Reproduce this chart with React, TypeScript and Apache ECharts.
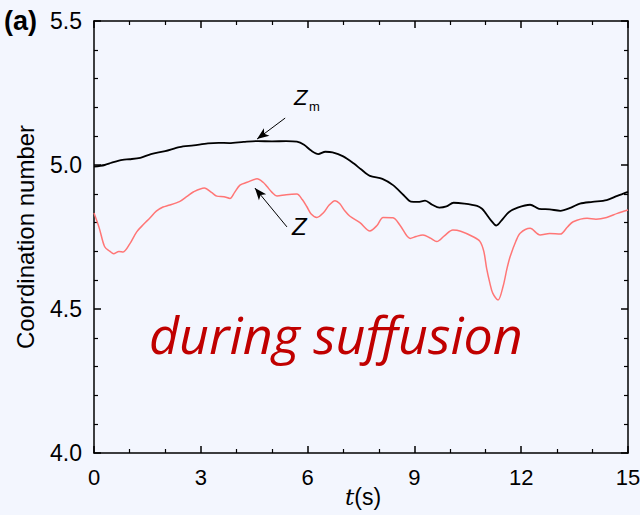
import React, { useEffect, useRef } from 'react';
import * as echarts from 'echarts';

// Z_m (black) — time (s) and coordination number
const zmT = [0, 0.3, 0.5, 0.8, 1.0, 1.3, 1.6, 2.0, 2.4, 2.8, 3.2, 3.5, 3.8, 4.2, 4.6, 5.0, 5.4, 5.7, 5.9, 6.1, 6.3, 6.5, 6.7, 7.0, 7.3, 7.5, 7.75, 8.1, 8.4, 8.7, 8.9, 9.1, 9.3, 9.5, 9.7, 9.9, 10.1, 10.4, 10.76, 10.9, 11.0, 11.15, 11.3, 11.45, 11.65, 11.9, 12.25, 12.5, 12.8, 13.1, 13.4, 13.65, 14.0, 14.4, 14.7, 15.0];
const zmV = [4.994, 5.0, 5.008, 5.018, 5.02, 5.025, 5.038, 5.048, 5.062, 5.068, 5.075, 5.077, 5.076, 5.08, 5.083, 5.082, 5.083, 5.081, 5.07, 5.05, 5.038, 5.046, 5.044, 5.03, 5.005, 4.985, 4.962, 4.952, 4.93, 4.895, 4.873, 4.872, 4.876, 4.862, 4.852, 4.856, 4.869, 4.866, 4.858, 4.848, 4.833, 4.808, 4.79, 4.808, 4.836, 4.852, 4.862, 4.848, 4.846, 4.841, 4.852, 4.866, 4.872, 4.878, 4.893, 4.907];

// Z (red)
const zT = [0, 0.15, 0.3, 0.45, 0.55, 0.7, 0.82, 1.0, 1.2, 1.4, 1.57, 1.75, 1.94, 2.1, 2.4, 2.6, 2.8, 3.1, 3.3, 3.45, 3.65, 3.82, 3.95, 4.1, 4.3, 4.58, 4.75, 4.86, 5.0, 5.14, 5.4, 5.7, 5.85, 5.98, 6.1, 6.26, 6.45, 6.6, 6.77, 6.9, 7.05, 7.19, 7.47, 7.75, 7.95, 8.12, 8.4, 8.6, 8.88, 9.05, 9.24, 9.45, 9.63, 9.85, 10.08, 10.3, 10.65, 10.84, 10.95, 11.03, 11.12, 11.2, 11.35, 11.49, 11.6, 11.69, 11.85, 11.97, 12.25, 12.53, 12.8, 13.1, 13.3, 13.46, 13.85, 14.1, 14.4, 14.7, 15.0];
const zV = [4.833, 4.78, 4.716, 4.7, 4.692, 4.7, 4.698, 4.725, 4.768, 4.795, 4.816, 4.84, 4.854, 4.86, 4.873, 4.89, 4.907, 4.92, 4.905, 4.892, 4.89, 4.884, 4.905, 4.93, 4.94, 4.952, 4.94, 4.925, 4.905, 4.892, 4.897, 4.899, 4.88, 4.855, 4.83, 4.818, 4.835, 4.86, 4.876, 4.866, 4.84, 4.822, 4.8, 4.771, 4.79, 4.818, 4.817, 4.79, 4.745, 4.752, 4.757, 4.746, 4.734, 4.755, 4.774, 4.77, 4.751, 4.735, 4.7, 4.64, 4.59, 4.555, 4.531, 4.578, 4.64, 4.682, 4.735, 4.763, 4.78, 4.757, 4.762, 4.76, 4.785, 4.803, 4.815, 4.812, 4.818, 4.832, 4.844];

const xTicks = { min: 0, max: 15, interval: 3 };
const yTicks = { min: 4.0, max: 5.5, interval: 0.5 };

// arrow annotations [tailT, tailV, tipT, tipV]
const arrowZm = [5.37, 5.163, 4.58, 5.09];
const arrowZ = [5.42, 4.785, 4.52, 4.92];

const SANS = '"Liberation Sans", Arial, sans-serif';

export default function App() {
  const ref = useRef<HTMLDivElement>(null);
  useEffect(() => {
    if (!ref.current) return;
    const chart = echarts.init(ref.current, undefined, { renderer: 'svg' });
    const axisLine = { show: true, onZero: false, lineStyle: { color: '#000', width: 1.5 } };
    const axisTick = { show: true, inside: true, length: 7, lineStyle: { color: '#000', width: 1.5 } };
    const minor = (n: number) => ({ show: true, splitNumber: n, length: 4, lineStyle: { color: '#000', width: 1.2 } });
    chart.setOption({
      animation: false,
      backgroundColor: '#f3f6fe',
      grid: { left: 94, right: 12, top: 21, bottom: 62, containLabel: false, outerBoundsMode: 'none' },
      xAxis: [
        {
          type: 'value', ...xTicks, position: 'bottom',
          axisLine, axisTick, minorTick: minor(3), splitLine: { show: false },
          axisLabel: { fontSize: 22, color: '#000', margin: 13, fontFamily: SANS },
        },
        {
          type: 'value', ...xTicks, position: 'top',
          axisLine, axisTick, minorTick: minor(3), splitLine: { show: false },
          axisLabel: { show: false },
        },
      ],
      yAxis: [
        {
          type: 'value', ...yTicks, position: 'left',
          axisLine, axisTick, minorTick: minor(5), splitLine: { show: false },
          axisLabel: { fontSize: 23, color: '#000', margin: 12, fontFamily: SANS, formatter: (v: number) => v.toFixed(1) },
          name: 'Coordination number', nameLocation: 'middle', nameGap: 57,
          nameTextStyle: { fontSize: 24, color: '#000', fontFamily: SANS },
        },
        {
          type: 'value', ...yTicks, position: 'right',
          axisLine, axisTick, minorTick: minor(5), splitLine: { show: false },
          axisLabel: { show: false },
        },
      ],
      series: [
        {
          type: 'line', name: 'Zm', showSymbol: false, smooth: 0.3,
          data: zmT.map((t, i) => [t, zmV[i]]),
          lineStyle: { color: '#000', width: 1.8 },
          z: 3,
          markLine: {
            silent: true, animation: false,
            symbol: ['none', 'arrow'], symbolSize: [7, 12],
            label: { show: false },
            lineStyle: { color: '#000', width: 1, type: 'solid' },
            data: [
              [{ coord: [arrowZm[0], arrowZm[1]] }, { coord: [arrowZm[2], arrowZm[3]] }],
              [{ coord: [arrowZ[0], arrowZ[1]] }, { coord: [arrowZ[2], arrowZ[3]] }],
            ],
          },
        },
        {
          type: 'line', name: 'Z', showSymbol: false, smooth: 0.3,
          data: zT.map((t, i) => [t, zV[i]]),
          lineStyle: { color: '#ff7676', width: 1.5 },
          z: 2,
        },
      ],
      graphic: [
        { type: 'text', left: 4, top: 7, style: { text: '(a)', font: `bold 27px ${SANS}`, fill: '#000' } },
        {
          type: 'text', x: 363, y: 485,
          style: {
            text: '{i|t}{n|(s)}', align: 'center', verticalAlign: 'top',
            rich: {
              i: { fontFamily: '"DejaVu Serif", serif', fontStyle: 'italic', fontSize: 23, fill: '#000' },
              n: { fontFamily: SANS, fontSize: 23, fill: '#000' },
            },
          },
        },
        { type: 'text', x: 294, y: 86, style: { text: 'Z', font: `italic 22px ${SANS}`, fill: '#000' } },
        { type: 'text', x: 309, y: 100, style: { text: 'm', font: `13px ${SANS}`, fill: '#000' } },
        { type: 'text', x: 292, y: 214, style: { text: 'Z', font: `italic 24px ${SANS}`, fill: '#000' } },
        { type: 'text', x: 149, y: 307, style: { text: 'during suffusion', font: `italic 52px "Open Sans", sans-serif`, fill: '#c00000' } },
      ],
    });
    return () => chart.dispose();
  }, []);
  return <div ref={ref} style={{ position: 'fixed', left: 0, top: 0, width: 640, height: 515 }} />;
}
